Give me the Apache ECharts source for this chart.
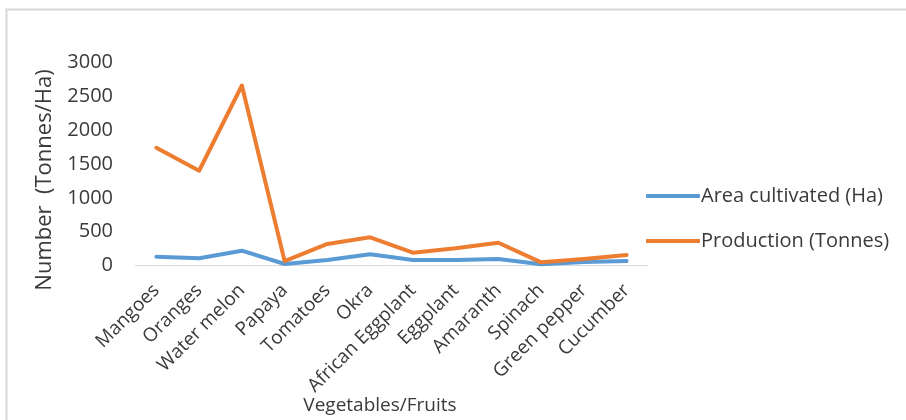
<!DOCTYPE html>
<html>
<head>
<meta charset="utf-8">
<script src="https://cdn.jsdelivr.net/npm/echarts@6/dist/echarts.min.js"></script>
<style>
  html, body { margin: 0; padding: 0; background: #fff; }
  #chart { width: 906px; height: 420px; }
</style>
</head>
<body>
<div id="chart"></div>
<script>
// Crops on the horizontal axis
const categories = ['Mangoes', 'Oranges', 'Water melon', 'Papaya', 'Tomatoes', 'Okra',
  'African Eggplant', 'Eggplant', 'Amaranth', 'Spinach', 'Green pepper', 'Cucumber'];

// Area cultivated, hectares
const areaHa = [130, 106, 219, 22, 81, 165, 81, 80, 96, 18, 52, 66];

// Production, tonnes
const productionT = [1740, 1400, 2660, 66, 318, 416, 190, 254, 337, 47, 96, 155];

const seriesNames = ['Area cultivated (Ha)', 'Production (Tonnes)'];
const yTicks = { min: 0, max: 3000, step: 500 };

const FONT = 'Open Sans';
const TEXT = '#3a3a3a';

const chart = echarts.init(document.getElementById('chart'), null, { renderer: 'canvas' });

chart.setOption({
  backgroundColor: '#ffffff',
  animation: false,
  textStyle: { fontFamily: FONT, color: TEXT },
  grid: { left: 135, right: 258, top: 62.5, bottom: 154.5, containLabel: false },
  legend: {
    orient: 'vertical',
    left: 641,
    top: 181,
    itemWidth: 54,
    itemHeight: 4,
    itemGap: 25,
    icon: 'roundRect',
    textStyle: { fontFamily: FONT, fontSize: 20, color: TEXT, padding: [0, 0, 0, -4] },
    data: seriesNames
  },
  xAxis: {
    type: 'category',
    data: categories,
    boundaryGap: true,
    axisLine: { lineStyle: { color: '#d9d9d9', width: 1 } },
    axisTick: { show: false },
    axisLabel: {
      rotate: 45,
      interval: 0,
      margin: 22,
      fontFamily: FONT,
      fontSize: 19,
      color: TEXT
    }
  },
  yAxis: {
    type: 'value',
    min: yTicks.min,
    max: yTicks.max,
    interval: yTicks.step,
    splitLine: { show: false },
    axisLine: { show: false },
    axisTick: { show: false },
    axisLabel: {
      margin: 22,
      fontFamily: FONT,
      fontSize: 20,
      color: TEXT,
      formatter: (v) => String(v)
    }
  },
  series: [
    {
      name: seriesNames[0],
      type: 'line',
      data: areaHa,
      symbol: 'none',
      lineStyle: { color: '#5b9bd5', width: 4, cap: 'round', join: 'round' },
      itemStyle: { color: '#5b9bd5' }
    },
    {
      name: seriesNames[1],
      type: 'line',
      data: productionT,
      symbol: 'none',
      lineStyle: { color: '#ed7d31', width: 4, cap: 'round', join: 'round' },
      itemStyle: { color: '#ed7d31' }
    }
  ],
  graphic: [
    {
      type: 'rect',
      shape: { x: 6.5, y: 9.5, width: 960, height: 460 },
      style: { fill: 'none', stroke: '#d9d9d9', lineWidth: 2 },
      silent: true
    },
    {
      type: 'text',
      x: 45,
      y: 180,
      rotation: Math.PI / 2,
      style: {
        text: 'Number  (Tonnes/Ha)',
        fontFamily: FONT,
        fontSize: 22,
        fill: TEXT,
        align: 'center',
        verticalAlign: 'middle'
      }
    },
    {
      type: 'text',
      x: 380,
      y: 406,
      style: {
        text: 'Vegetables/Fruits',
        fontFamily: FONT,
        fontSize: 19,
        fill: TEXT,
        align: 'center',
        verticalAlign: 'middle'
      }
    }
  ]
});
</script>
</body>
</html>
